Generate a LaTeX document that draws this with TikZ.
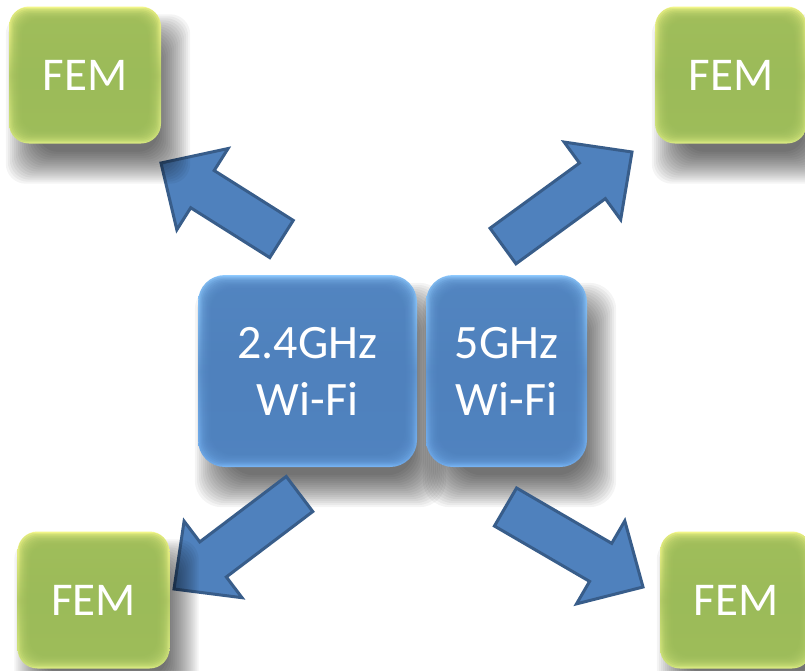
\documentclass[tikz,border=0pt]{standalone}
\usepackage{fontspec}
\setmainfont{Carlito}
\usetikzlibrary{calc}

\definecolor{femBase}{HTML}{9BBB59}
\definecolor{femTop}{HTML}{F4F78A}
\definecolor{femBottom}{HTML}{D8E981}
\definecolor{wifiBase}{HTML}{4F81BD}
\definecolor{wifiTop}{HTML}{8FCBFF}
\definecolor{wifiBottom}{HTML}{76B2F2}
\definecolor{arrowFill}{HTML}{4F81BD}
\definecolor{arrowLine}{HTML}{385D8A}

\pgfdeclarelayer{wshadow}
\pgfdeclarelayer{fshadow}
\pgfdeclarelayer{front}
\pgfsetlayers{wshadow,main,fshadow,front}

\tikzset{
  % soft bevel: light rim from the shading, flat base colour towards the middle
  bevel/.style n args={4}{%
    top color=#1, bottom color=#2, middle color=#3!70!#1,
    path picture={
      \foreach \k in {1,...,10}
        \fill[#3, fill opacity=0.22, rounded corners=#4]
          ($(path picture bounding box.north west)+(\k*1.3,\k*1.3)$) rectangle
          ($(path picture bounding box.south east)+(-\k*1.3,-\k*1.3)$);
    }},
  fembox/.style={rounded corners=20pt,
    bevel={femTop}{femBottom}{femBase}{16pt},
    minimum width=152pt, minimum height=137pt, inner sep=0pt,
    text=white, font=\fontsize{47}{55}\selectfont},
  wifibox/.style={rounded corners=27pt,
    bevel={wifiTop}{wifiBottom}{wifiBase}{22pt},
    minimum height=192pt, inner sep=0pt, align=center,
    text=white, font=\fontsize{48}{57}\selectfont},
  blockarrow/.style={fill=arrowFill, draw=arrowLine, line width=3pt, line join=miter},
}

% soft drop shadow below and right of node #1, corner radius #2
\newcommand\boxshadow[2]{%
  \foreach \k [evaluate=\k as \e using (\k-8)*2] in {0,...,16}
    \fill[black, fill opacity=0.042, rounded corners=#2]
      ($(#1.north west)+(13-\e,24-\e)$) rectangle ($(#1.south east)+(13+\e,24+\e)$);
}

% block arrow from tail coordinate #1 to tip coordinate #2
\newcommand\blkarrow[2]{%
  \coordinate (#1n) at ($(#2)!49pt!(#1)$);
  \draw[blockarrow]
    ($(#1)!22pt!90:(#2)$) -- ($(#1n)!22pt!90:(#2)$) -- ($(#1n)!48pt!90:(#2)$)
    -- (#2)
    -- ($(#1n)!48pt!-90:(#2)$) -- ($(#1n)!22pt!-90:(#2)$) -- ($(#1)!22pt!-90:(#2)$)
    -- cycle;
}

\begin{document}
\begin{tikzpicture}[x=1pt, y=-1pt]
  \begin{pgfonlayer}{wshadow}
    \fill[white] (0,0) rectangle (805,670);
  \end{pgfonlayer}
  \useasboundingbox (0,0) rectangle (805,670);

  % radios
  \node[wifibox, minimum width=219pt] (w24) at (307.5,371) {2.4GHz\\Wi-Fi};
  \node[wifibox, minimum width=161pt] (w5) at (506.5,371) {5GHz\\Wi-Fi};
  \begin{pgfonlayer}{wshadow}
    \boxshadow{w24}{27pt}
    \boxshadow{w5}{27pt}
  \end{pgfonlayer}

  % arrow ends
  \coordinate (a1t) at (281.5,239); \coordinate (a1h) at (161,163);
  \coordinate (a2t) at (503,246);   \coordinate (a2h) at (632,152);
  \coordinate (a3t) at (299.5,494); \coordinate (a3h) at (174,589);
  \coordinate (a4t) at (505.5,507); \coordinate (a4h) at (643,587);

  \blkarrow{a1t}{a1h}
  \blkarrow{a2t}{a2h}
  \blkarrow{a3t}{a3h}
  \blkarrow{a4t}{a4h}

  % front-end modules
  \begin{pgfonlayer}{front}
    \node[fembox] (femTL) at (85,75) {FEM};
    \node[fembox] (femTR) at (731,75) {FEM};
    \node[fembox] (femBL) at (93.5,600) {FEM};
    \node[fembox] (femBR) at (736,600) {FEM};
  \end{pgfonlayer}
  \begin{pgfonlayer}{fshadow}
    \boxshadow{femTL}{20pt}
    \boxshadow{femTR}{20pt}
    \boxshadow{femBL}{20pt}
    \boxshadow{femBR}{20pt}
  \end{pgfonlayer}
\end{tikzpicture}
\end{document}
